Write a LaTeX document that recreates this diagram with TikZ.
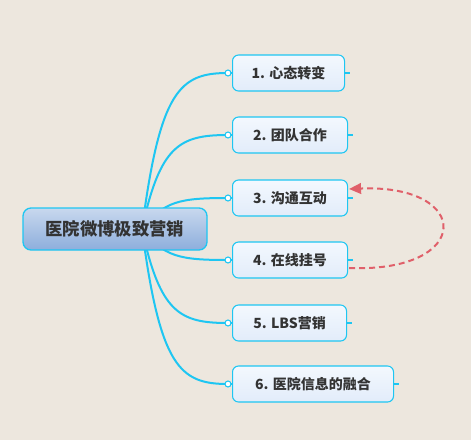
\documentclass[tikz,border=0pt]{standalone}
\usepackage{fontspec}
\setmainfont{Noto Sans CJK SC}
\usetikzlibrary{arrows.meta,calc}
\pgfdeclarelayer{back}
\pgfdeclarelayer{bg}
\pgfsetlayers{back,bg,main}
\definecolor{paper}{HTML}{EDE7DE}
\definecolor{cyanline}{HTML}{1EC6F2}
\definecolor{txt}{HTML}{333333}
\definecolor{dashred}{HTML}{E0606A}
\definecolor{roottop}{HTML}{C8D8EE}
\definecolor{rootbot}{HTML}{8DAEDC}
\definecolor{childtop}{HTML}{F3F8FE}
\definecolor{childbot}{HTML}{E2ECFA}
\begin{document}
\begin{tikzpicture}[x=0.75pt,y=-0.75pt,
  rootbox/.style={draw=cyanline, line width=1pt, rounded corners=6pt,
    top color=roottop, bottom color=rootbot,
    minimum width=138pt, minimum height=31.5pt, inner sep=0pt,
    font=\fontsize{13pt}{15pt}\selectfont\bfseries, text=txt},
  childbox/.style={draw=cyanline, line width=0.8pt, rounded corners=4.5pt,
    top color=childtop, bottom color=childbot,
    minimum height=27pt, inner sep=0pt, anchor=west,
    font=\fontsize{10.5pt}{12pt}\selectfont\bfseries, text=txt},
  branch/.style={draw=cyanline, line width=1.5pt},
  tick/.style={draw=cyanline, line width=0.8pt},
  knob/.style={circle, draw=cyanline, fill=white, line width=0.8pt, minimum size=4.5pt, inner sep=0pt},
  dashlink/.style={draw=dashred, line width=1.5pt, dash pattern=on 4.5pt off 3pt,
    -{Triangle[length=9pt,width=8pt]}},
]
\begin{pgfonlayer}{back}
\fill[paper] (0,0) rectangle (471,440);
\end{pgfonlayer}
\useasboundingbox (0,0) rectangle (471,440);

\node[rootbox] (root) at (115,229) {医院微博极致营销};
\node[childbox, minimum width=84pt] (n1) at (232,73) {1. 心态转变};
\node[childbox, minimum width=86.25pt] (n2) at (232,135) {2. 团队合作};
\node[childbox, minimum width=86.25pt] (n3) at (232,198) {3. 沟通互动};
\node[childbox, minimum width=86.25pt] (n4) at (232,260) {4. 在线挂号};
\node[childbox, minimum width=85.5pt] (n5) at (232,323) {5. LBS营销};
\node[childbox, minimum width=120.75pt] (n6) at (232,384) {6. 医院信息的融合};

\coordinate (hub) at ($(root.center)+(27,0)$);
\foreach \i in {1,...,6} {
  \coordinate (p\i) at ($(n\i.west)+(-4,0)$);
}
\begin{pgfonlayer}{bg}
\draw[branch] (hub) .. controls +(18,-139) and +(-48,0) .. (p1);
\draw[branch] (hub) .. controls +(18,-84) and +(-48,0) .. (p2);
\draw[branch] (hub) .. controls +(22,-28) and +(-48,0) .. (p3);
\draw[branch] (hub) .. controls +(22,28) and +(-48,0) .. (p4);
\draw[branch] (hub) .. controls +(18,84) and +(-48,0) .. (p5);
\draw[branch] (hub) .. controls +(18,138) and +(-48,0) .. (p6);
\foreach \i in {1,...,6} {
  \draw[tick] (p\i) -- (n\i.west);
  \draw[tick] (n\i.east) -- ++(5,0);
}
\end{pgfonlayer}
\foreach \i in {1,...,6} {
  \node[knob] (k\i) at (p\i) {};
}
\draw[dashlink] ($(n4.east)+(1,8)$) .. controls +(124,5) and +(124,-5) .. ($(n3.east)+(1,-9)$);
\end{tikzpicture}
\end{document}
